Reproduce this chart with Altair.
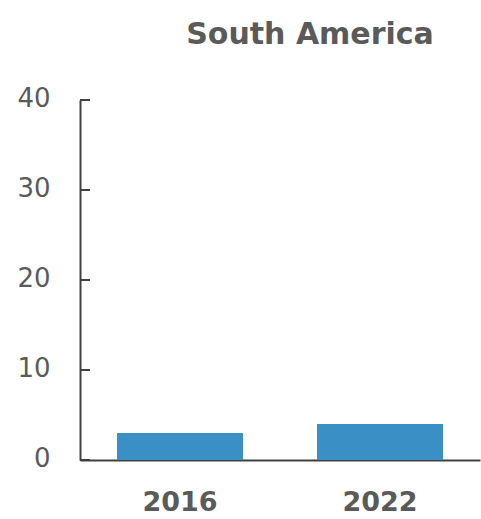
import altair as alt
import pandas as pd

years = ["2016", "2022"]
values = [3.0, 4.0]
y_ticks = [0, 10, 20, 30, 40]

bars_df = pd.DataFrame({"year": years, "value": values})
ticks_df = pd.DataFrame({"tick": y_ticks})

axis_color = "#404040"
text_color = "#5a5a5a"

y_scale = alt.Scale(domain=[0, 40])

bars = alt.Chart(bars_df).mark_bar(color="#3a8fc4").encode(
    x=alt.X(
        "year:N",
        sort=years,
        scale=alt.Scale(paddingInner=0.37, paddingOuter=0.185),
        axis=alt.Axis(
            title=None,
            labelAngle=0,
            labelFont="DejaVu Sans",
            labelFontSize=27,
            labelFontWeight="bold",
            labelColor=text_color,
            labelPadding=29,
            ticks=False,
            domainColor=axis_color,
            domainWidth=2,
        ),
    ),
    y=alt.Y(
        "value:Q",
        scale=y_scale,
        axis=alt.Axis(
            title=None,
            values=y_ticks,
            labelFont="DejaVu Sans",
            labelFontSize=26,
            labelColor=text_color,
            labelPadding=30,
            labelOffset=-2,
            ticks=False,
            grid=False,
            domainColor=axis_color,
            domainWidth=2,
        ),
    ),
)

# inward-facing tick marks on the value axis
tick_marks = alt.Chart(ticks_df).mark_rule(color=axis_color, strokeWidth=2).encode(
    y=alt.Y("tick:Q", scale=y_scale),
    x=alt.value(0),
    x2=alt.value(10),
)

chart = (
    alt.layer(bars, tick_marks)
    .properties(
        width=400,
        height=360,
        view=alt.ViewBackground(stroke="transparent", strokeWidth=0),
        title=alt.TitleParams(
            "South America",
            font="DejaVu Sans",
            fontSize=30,
            fontWeight="bold",
            color=text_color,
            anchor="middle",
            dx=30,
            offset=35,
        ),
        autosize=alt.AutoSizeParams(type="none"),
        padding={"left": 80, "top": 100, "right": 1, "bottom": 59},
    )
    .configure_view(stroke="transparent", strokeWidth=0)
    .configure(background="white")
)

chart.save("out.html", embed_options={"renderer": "svg", "actions": False})
